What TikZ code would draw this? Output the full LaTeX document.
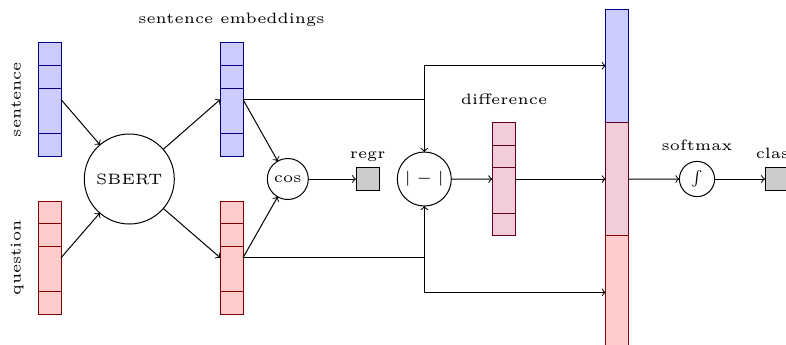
\documentclass[tikz,border=0pt]{standalone}
\usepackage{graphicx}
\usepackage{amsmath}
\usetikzlibrary{calc}
\colorlet{sfill}{blue!20}
\colorlet{sdraw}{blue!50!black}
\colorlet{qfill}{red!20}
\colorlet{qdraw}{red!50!black}
\colorlet{dfill}{purple!20}
\colorlet{ddraw}{purple!50!black}
\newcommand\tx[1]{\scalebox{1.5}{\tiny #1}}
\newcommand\cellsep[2]{\draw[#2] ($(#1.north west)+(0,-11.35pt)$) -- ++(11.35pt,0)
  ($(#1.north west)+(0,-22.7pt)$) -- ++(11.35pt,0)
  ($(#1.north west)+(0,-45.4pt)$) -- ++(11.35pt,0);}
\tikzset{
  vecbox/.style={draw, inner sep=0pt, outer sep=0pt, minimum width=11.35pt, minimum height=56.75pt, anchor=north west},
  svec/.style={vecbox, fill=sfill, draw=sdraw},
  qvec/.style={vecbox, fill=qfill, draw=qdraw},
  dvec/.style={vecbox, fill=dfill, draw=ddraw},
  op/.style={draw, circle, inner sep=0pt, outer sep=0pt},
  outbox/.style={draw, fill=black!20, inner sep=0pt, outer sep=0pt, minimum size=11.65pt},
  lbl/.style={anchor=base, inner sep=0pt},
  conn/.style={->},
}
\begin{document}
\begin{tikzpicture}[x=0.5pt, y=-0.5pt, line width=0.5pt]
\useasboundingbox (0,0) rectangle (786,344);
\clip (0,0) rectangle (786,344);
% input vectors
\node[svec] (sin) at (38.3,42.7) {};
\cellsep{sin}{sdraw}
\node[qvec] (qin) at (38.3,201) {};
\cellsep{qin}{qdraw}
% embeddings
\node[svec] (se) at (220.3,42.7) {};
\cellsep{se}{sdraw}
\node[qvec] (qe) at (220.3,201) {};
\cellsep{qe}{qdraw}
% difference vector
\node[dvec] (dv) at (492.3,122.3) {};
\cellsep{dv}{ddraw}
% concatenated vector
\node[svec] (cb) at (605.7,9) {};
\node[dvec] (cp) at (605.7,122.3) {};
\node[qvec] (cr) at (605.7,235.7) {};
% operators
\node[op, minimum size=45pt] (sbert) at (129.3,179) {\tx{SBERT}};
\node[op, minimum size=20.5pt] (cos) at (287.8,179) {\tx{cos}};
\node[op, minimum size=27pt] (dop) at (424.3,179) {\tx{$|-|$}};
\node[op, minimum size=17.6pt] (sm) at (697,179) {\tx{$\int$}};
\node[outbox] (regr) at (367.7,179) {};
\node[outbox] (cls) at (776.7,179) {};
% labels
\node[lbl] (lse) at (231.5,23) {\tx{sentence embeddings}};
\node[lbl, rotate=90] (lsin) at (20.7,99.5) {\tx{sentence}};
\node[lbl, rotate=90] (lqin) at (20.7,258) {\tx{question}};
\node[lbl] (lregr) at (367.7,158.3) {\tx{regr}};
\node[lbl] (ldiff) at (504,104) {\tx{difference}};
\node[lbl] (lsm) at (697,150) {\tx{softmax}};
\node[lbl] (lcls) at (776.7,158.5) {\tx{class}};
% connectors
\draw[conn] (sin.east) -- (sbert);
\draw[conn] (qin.east) -- (sbert);
\draw[conn] (sbert) -- (se.west);
\draw[conn] (sbert) -- (qe.west);
\draw[conn] (se.east) -- (cos);
\draw[conn] (qe.east) -- (cos);
\draw[conn] (cos) -- (regr);
\draw[conn] (se.east) -| (dop);
\draw[conn] (qe.east) -| (dop);
\draw[conn] (dop |- se.east) |- (cb.west);
\draw[conn] (dop |- qe.east) |- (cr.west);
\draw[conn] (dop) -- (dv.west);
\draw[conn] (dv.east) -- (cp.west);
\draw[conn] (cp.east) -- (sm);
\draw[conn] (sm) -- (cls);
\end{tikzpicture}
\end{document}
